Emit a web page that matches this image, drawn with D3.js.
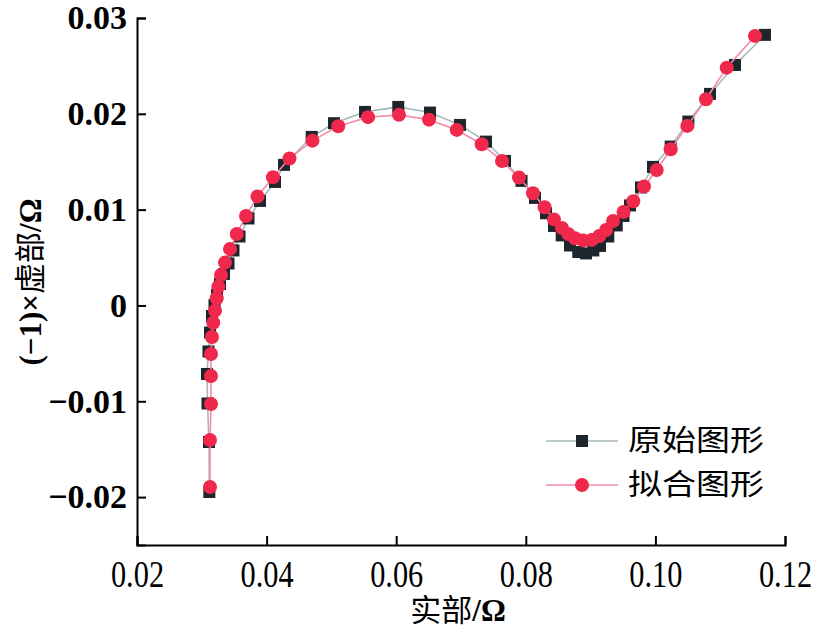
<!DOCTYPE html>
<html><head><meta charset="utf-8">
<script src="https://cdn.jsdelivr.net/npm/d3@7"></script>
<style>body{margin:0;background:#fff}</style>
</head><body>
<svg id="c" width="815" height="630"></svg>
<script>
const origX = [0.03116,0.03111,0.03088,0.03080,0.03103,0.03127,0.03157,0.03196,0.03235,0.03281,0.03343,0.03412,0.03489,0.03582,0.03721,0.03898,0.04130,0.04269,0.04696,0.05040,0.05519,0.06032,0.06522,0.06985,0.07386,0.07679,0.07934,0.08142,0.08312,0.08435,0.08554,0.08682,0.08810,0.08929,0.09042,0.09145,0.09273,0.09403,0.09508,0.09608,0.09778,0.09963,0.10236,0.10508,0.10843,0.11228,0.11691];
const origY = [-0.01947,-0.01425,-0.01023,-0.00715,-0.00480,-0.00282,-0.00110,0.00005,0.00110,0.00224,0.00329,0.00438,0.00574,0.00720,0.00908,0.01091,0.01289,0.01467,0.01759,0.01902,0.02020,0.02072,0.02013,0.01884,0.01710,0.01508,0.01300,0.01122,0.00962,0.00830,0.00731,0.00626,0.00558,0.00543,0.00574,0.00621,0.00720,0.00835,0.00934,0.01044,0.01232,0.01446,0.01658,0.01919,0.02208,0.02510,0.02824];
const fitX = [0.03127,0.03127,0.03142,0.03142,0.03142,0.03157,0.03177,0.03204,0.03230,0.03255,0.03296,0.03358,0.03435,0.03539,0.03682,0.03860,0.04099,0.04353,0.04708,0.05106,0.05565,0.06043,0.06506,0.06934,0.07319,0.07633,0.07895,0.08111,0.08289,0.08435,0.08559,0.08656,0.08759,0.08887,0.09017,0.09134,0.09238,0.09346,0.09508,0.09659,0.09824,0.10020,0.10236,0.10492,0.10781,0.11100,0.11537];
const fitY = [-0.01895,-0.01404,-0.01028,-0.00736,-0.00506,-0.00329,-0.00180,-0.00054,0.00075,0.00196,0.00318,0.00447,0.00590,0.00746,0.00934,0.01138,0.01338,0.01534,0.01720,0.01871,0.01965,0.01989,0.01939,0.01832,0.01683,0.01508,0.01336,0.01171,0.01025,0.00898,0.00809,0.00746,0.00701,0.00679,0.00684,0.00725,0.00788,0.00882,0.00976,0.01088,0.01242,0.01414,0.01630,0.01874,0.02152,0.02482,0.02813];
const xTicks = [0.02,0.04,0.06,0.08,0.10,0.12];
const xTickLabels = ["0.02","0.04","0.06","0.08","0.10","0.12"];
const yTicks = [-0.02,-0.01,0,0.01,0.02,0.03];
const yTickLabels = ["\u22120.02","\u22120.01","0","0.01","0.02","0.03"];
const seriesNames = ["原始图形","拟合图形"];

const svg = d3.select("#c");
const x = d3.scaleLinear().domain([0.02,0.12]).range([137,785]);
const y = d3.scaleLinear().domain([-0.025,0.03]).range([545,18]);

const serif = "'Liberation Serif','Times New Roman',serif";
const cjk = "'Noto Sans CJK SC','Noto Sans CJK JP',sans-serif";

// axes
const xa = svg.append("g").attr("transform","translate(0,545)")
  .call(d3.axisBottom(x).tickValues(xTicks).tickSize(-9).tickPadding(12).tickFormat((d,i)=>xTickLabels[i]));
xa.select(".domain").attr("stroke","#000").attr("stroke-width",2);
xa.selectAll(".tick line").attr("stroke","#000").attr("stroke-width",2);
xa.selectAll(".tick text").attr("font-family",serif).attr("font-size",33).attr("fill","#000")
  .attr("dy","0.72em").attr("transform","scale(0.92,1.18)");

const ya = svg.append("g").attr("transform","translate(137,0)")
  .call(d3.axisLeft(y).tickValues(yTicks).tickSize(-9).tickPadding(10).tickFormat((d,i)=>yTickLabels[i]));
ya.select(".domain").attr("stroke","#000").attr("stroke-width",2);
ya.selectAll(".tick line").attr("stroke","#000").attr("stroke-width",2);
ya.selectAll(".tick text").attr("font-family",serif).attr("font-weight","bold").attr("font-size",34).attr("fill","#000");

// lines
const origData = origX.map((v,i)=>[v,origY[i]]);
const fitData = fitX.map((v,i)=>[v,fitY[i]]);
const line = d3.line().x(d=>x(d[0])).y(d=>y(d[1]));
const gray = "#a9b9b9", sq = "#1c262c", pink = "#f58aa8", red = "#f0284c";

svg.append("path").datum(origData).attr("d",line).attr("fill","none").attr("stroke",gray).attr("stroke-width",1.6);
svg.selectAll("rect.o").data(origData).enter().append("rect").attr("class","o")
  .attr("x",d=>x(d[0])-6).attr("y",d=>y(d[1])-6).attr("width",12).attr("height",12).attr("fill",sq);

svg.append("path").datum(fitData).attr("d",line).attr("fill","none").attr("stroke",pink).attr("stroke-width",1.6);
svg.selectAll("circle.f").data(fitData).enter().append("circle").attr("class","f")
  .attr("cx",d=>x(d[0])).attr("cy",d=>y(d[1])).attr("r",7).attr("fill",red);

// legend
const lg = svg.append("g");
[0,1].forEach(i=>{
  const ly = 441 + i*44;
  lg.append("line").attr("x1",546).attr("x2",618).attr("y1",ly).attr("y2",ly)
    .attr("stroke",i?pink:gray).attr("stroke-width",1.6);
  if(i===0) lg.append("rect").attr("x",576).attr("y",ly-6).attr("width",12).attr("height",12).attr("fill",sq);
  else lg.append("circle").attr("cx",582).attr("cy",ly).attr("r",7).attr("fill",red);
  lg.append("text").attr("x",628).attr("y",ly).attr("dy","0.36em").attr("font-family",cjk)
    .attr("font-size",29).attr("textLength",136).attr("lengthAdjust","spacingAndGlyphs")
    .attr("fill","#000").text(seriesNames[i]);
});

// axis titles
svg.append("text").attr("x",458).attr("y",610).attr("text-anchor","middle").attr("dy","0.36em")
  .attr("font-size",31).attr("fill","#000")
  .html(`<tspan font-family="${cjk}">实部</tspan><tspan font-family="${serif}" font-weight="bold">/Ω</tspan>`);
svg.append("text").attr("transform","translate(30,282) rotate(-90)").attr("text-anchor","middle").attr("dy","0.36em")
  .attr("font-size",31).attr("fill","#000")
  .html(`<tspan font-family="${serif}" font-weight="bold">(−1)×</tspan><tspan font-family="${cjk}">虚部</tspan><tspan font-family="${serif}" font-weight="bold">/Ω</tspan>`);
</script>
</body></html>
